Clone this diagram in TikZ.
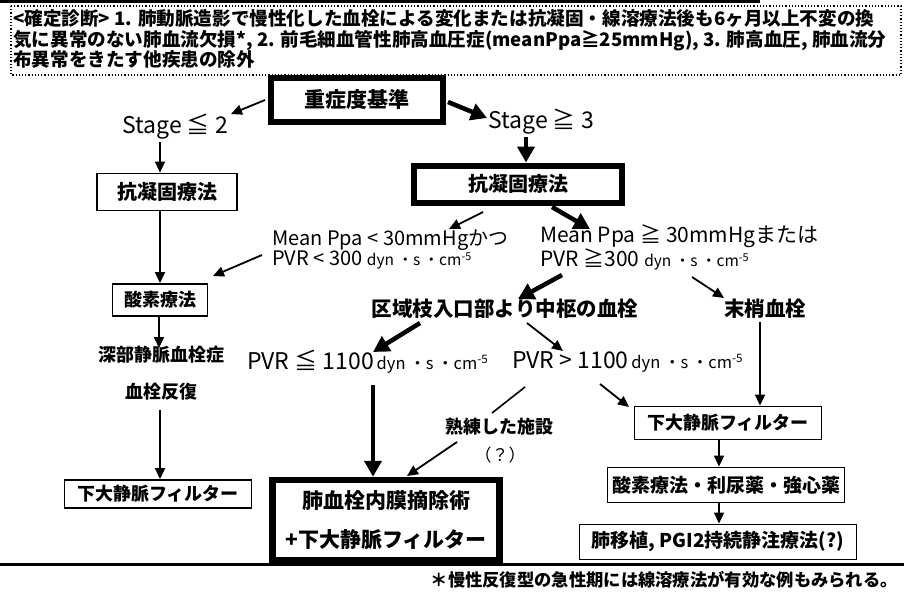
\documentclass[tikz,border=0pt]{standalone}
\usepackage{fontspec}
\setmainfont{Noto Sans CJK JP}
\usetikzlibrary{arrows.meta}
\begin{document}
\begin{tikzpicture}[x=1pt,y=-1pt,
  box/.style={draw,line width=1.8pt,inner sep=0pt,align=center,font=\bfseries\fontsize{18}{20}\selectfont},
  bigbox/.style={draw,line width=6pt,inner sep=0pt,align=center,font=\bfseries\fontsize{21}{39}\selectfont},
  txt/.style={inner sep=0pt,align=left},
  jtxt/.style={inner sep=0pt,font=\bfseries\fontsize{18}{20}\selectfont},
  thinarr/.style={line width=1.8pt,-{Triangle[length=11pt,width=10pt]}},
  thickarr/.style={line width=4.5pt,-{Triangle[length=16pt,width=17pt]}},
  plainln/.style={line width=1.6pt},
]
\useasboundingbox (0,0) rectangle (904,595);
% top rules and header
\draw[line width=2.5pt] (0,1.5) -- (760,1.5);
\draw[dotted,line width=1.2pt] (11,6) rectangle (901,75);
\node[anchor=north west,inner sep=0pt,align=left,font=\bfseries\fontsize{18.6}{20.5}\selectfont] (hdr) at (13,9.5)
 {<確定診断> 1. 肺動脈造影で慢性化した血栓による変化または抗凝固・線溶療法後も6ヶ月以上不変の換\\
  気に異常のない肺血流欠損*, 2. 前毛細血管性肺高血圧症(meanPpa≧25mmHg), 3. 肺高血圧, 肺血流分\\
  布異常をきたす他疾患の除外};

% main nodes
\node[bigbox,minimum width=172pt,minimum height=44pt] (sev) at (357,100) {重症度基準};
\node[txt,font=\fontsize{23}{25}\selectfont] (s2) at (175,127) {Stage ≦ 2};
\node[txt,font=\fontsize{23}{25}\selectfont] (s3) at (541,122) {Stage ≧ 3};
\node[box,font=\bfseries\fontsize{20}{22}\selectfont,minimum width=140pt,minimum height=37pt] (ac1) at (167,192) {抗凝固療法};
\node[bigbox,font=\bfseries\fontsize{20}{22}\selectfont,minimum width=208pt,minimum height=37pt] (ac2) at (518,184) {抗凝固療法};
\node[txt,anchor=west,font=\fontsize{20}{19}\selectfont] (mL) at (272,249.5)
 {Mean Ppa < 30mmHgかつ\\PVR < 300 {\fontsize{15.5}{15}\selectfont dyn ・s ・cm\textsuperscript{-5}}};
\node[txt,anchor=west,font=\fontsize{21}{19.5}\selectfont] (mR) at (540,247.5)
 {Mean Ppa ≧ 30mmHgまたは\\PVR ≧300 {\fontsize{15.5}{15}\selectfont dyn ・s ・cm\textsuperscript{-5}}};
\node[box,minimum width=95pt,minimum height=32pt] (o2) at (160,300) {酸素療法};
\node[jtxt] (dvt) at (161,355) {深部静脈血栓症};
\node[jtxt] (rec) at (161,392) {血栓反復};
\node[box,minimum width=187pt,minimum height=28pt] (ivc1) at (158,494) {下大静脈フィルター};
\node[jtxt,font=\bfseries\fontsize{20.5}{22}\selectfont] (cen) at (505,309) {区域枝入口部より中枢の血栓};
\node[jtxt,font=\bfseries\fontsize{20.5}{22}\selectfont] (per) at (765,309) {末梢血栓};
\node[txt,anchor=west,font=\fontsize{23}{25}\selectfont] (p1) at (247,362)
 {PVR ≦ 1100{\fontsize{16.5}{16}\selectfont\,dyn ・s ・cm\textsuperscript{-5}}};
\node[txt,anchor=west,font=\fontsize{23}{25}\selectfont] (p2) at (512,362)
 {PVR > 1100{\fontsize{16.5}{16}\selectfont\,dyn ・s ・cm\textsuperscript{-5}}};
\node[jtxt] (skill) at (499,427) {熟練した施設};
\node[txt,font=\fontsize{17}{19}\selectfont] (q) at (500,455) {（？）};
\node[bigbox,line width=6.5pt,minimum width=227pt,minimum height=80pt] (pea) at (386,520) {肺血栓内膜摘除術\\+下大静脈フィルター};
\node[box,minimum width=187pt,minimum height=33pt] (ivc2) at (728,423) {下大静脈フィルター};
\node[box,font=\bfseries\fontsize{19}{21}\selectfont,minimum width=237pt,minimum height=35pt] (o2b) at (726,485) {酸素療法・利尿薬・強心薬};
\node[box,font=\bfseries\fontsize{19}{21}\selectfont,minimum width=277pt,minimum height=35pt] (lt) at (718,542) {肺移植, PGI2持続静注療法(?)};

% bottom rule and footnote
\draw[line width=3pt] (0,564) -- (904,564);
\node[anchor=east,inner sep=0pt,font=\bfseries\fontsize{17.3}{19}\selectfont] (foot) at (898,580) {＊慢性反復型の急性期には線溶療法が有効な例もみられる。};

% connector end points
\coordinate (c1a) at (265,100); \coordinate (c1b) at (231,114);
\coordinate (c2a) at (448,102); \coordinate (c2b) at (487,118);
\coordinate (c5a) at (483,212); \coordinate (c5b) at (449,229);
\coordinate (c6a) at (552,207); \coordinate (c6b) at (590,229);
\coordinate (c8a) at (262,255); \coordinate (c8b) at (213,276);
\coordinate (c11a) at (562,275); \coordinate (c11b) at (518,299);
\coordinate (c12a) at (692,277); \coordinate (c12b) at (724,298);
\coordinate (c13a) at (420,323); \coordinate (c13b) at (373,352);
\coordinate (c14a) at (527,323); \coordinate (c14b) at (563,351);
\coordinate (c16a) at (525,387); \coordinate (c16b) at (492,413);
\coordinate (c17a) at (457,442); \coordinate (c17b) at (407,476);
\coordinate (c18a) at (600,384); \coordinate (c18b) at (629,407);

% connectors
\draw[thinarr] (c1a) -- (c1b);
\draw[thickarr] (c2a) -- (c2b);
\draw[thinarr] (160,142) -- (ac1.north -| 160,0);
\draw[thickarr] (526,137) -- (ac2.north -| 526,0);
\draw[thinarr] (c5a) -- (c5b);
\draw[thickarr] (c6a) -- (c6b);
\draw[thinarr] (ac1.south -| 160,0) -- (o2.north -| 160,0);
\draw[thinarr] (c8a) -- (c8b);
\draw[thinarr] (o2.south -| 159,0) -- (159,348);
\draw[thinarr] (160,410) -- (ivc1.north -| 160,0);
\draw[thickarr] (c11a) -- (c11b);
\draw[thinarr] (c12a) -- (c12b);
\draw[thickarr] (c13a) -- (c13b);
\draw[thinarr] (c14a) -- (c14b);
\draw[thickarr] (373,385) -- (pea.north -| 373,0);
\draw[plainln] (c16a) -- (c16b);
\draw[thinarr] (c17a) -- (c17b);
\draw[thinarr] (c18a) -- (c18b);
\draw[thinarr] (760,322) -- (ivc2.north -| 760,0);
\draw[thinarr] (ivc2.south -| 719,0) -- (o2b.north -| 719,0);
\draw[thinarr] (o2b.south -| 719,0) -- (lt.north -| 719,0);
\end{tikzpicture}
\end{document}
